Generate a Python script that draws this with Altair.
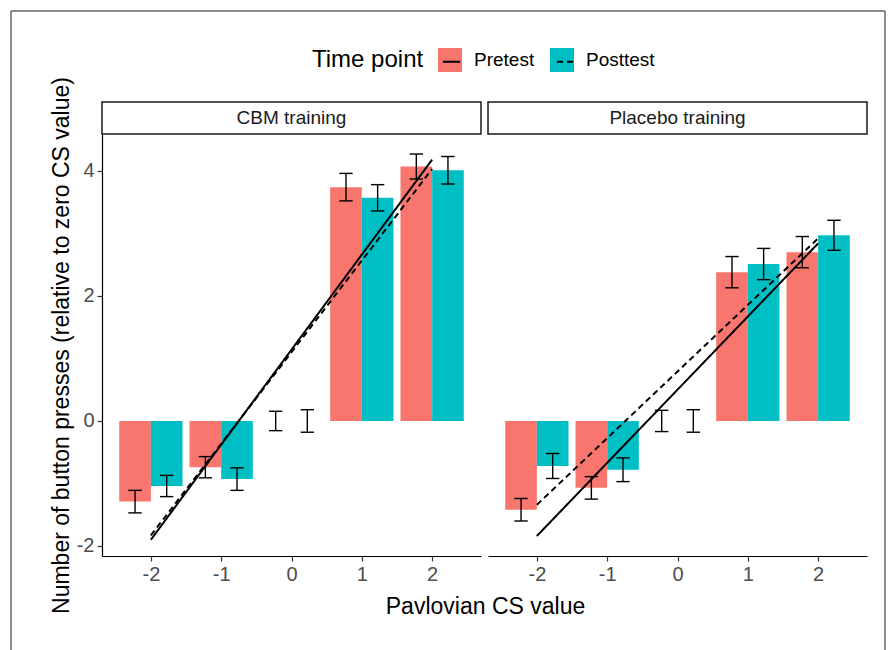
import altair as alt
import pandas as pd

# Pavlovian CS values on the x axis
cs_values = [-2, -1, 0, 1, 2]
time_points = ["Pretest", "Posttest"]
panels = ["CBM training", "Placebo training"]
bar_colors = ["#F8766D", "#00BFC4"]

# Mean change in button presses (relative to zero CS value) and standard errors
cbm_pre = [-1.29, -0.74, 0.0, 3.74, 4.07]
cbm_pre_se = [0.18, 0.17, 0.155, 0.22, 0.20]
cbm_post = [-1.04, -0.93, 0.0, 3.57, 4.01]
cbm_post_se = [0.17, 0.18, 0.18, 0.21, 0.22]
placebo_pre = [-1.42, -1.07, 0.0, 2.38, 2.70]
placebo_pre_se = [0.18, 0.18, 0.17, 0.25, 0.25]
placebo_post = [-0.72, -0.78, 0.0, 2.51, 2.97]
placebo_post_se = [0.20, 0.19, 0.18, 0.25, 0.24]

# Linear fits, evaluated at the ends of the CS range
fit_x = [-2, 2]
cbm_pre_fit = [-1.90, 4.18]
cbm_post_fit = [-1.83, 4.03]
placebo_pre_fit = [-1.84, 2.84]
placebo_post_fit = [-1.34, 2.92]

means = {
    ("CBM training", "Pretest"): (cbm_pre, cbm_pre_se),
    ("CBM training", "Posttest"): (cbm_post, cbm_post_se),
    ("Placebo training", "Pretest"): (placebo_pre, placebo_pre_se),
    ("Placebo training", "Posttest"): (placebo_post, placebo_post_se),
}
fits = {
    ("CBM training", "Pretest"): cbm_pre_fit,
    ("CBM training", "Posttest"): cbm_post_fit,
    ("Placebo training", "Pretest"): placebo_pre_fit,
    ("Placebo training", "Posttest"): placebo_post_fit,
}

BAR_W = 0.45   # width of each dodged bar
CAP_W = 0.095  # half width of error bar caps

rows = []
for (panel, tp), (vals, ses) in means.items():
    shift = -BAR_W if tp == "Pretest" else 0.0
    for cs, v, se in zip(cs_values, vals, ses):
        x_lo = cs + shift
        xc = x_lo + BAR_W / 2
        rows.append({
            "panel": panel, "time": tp, "cs": cs, "mean": v, "base": 0.0,
            "x_lo": x_lo, "x_hi": x_lo + BAR_W, "xc": xc,
            "cap_lo": xc - CAP_W, "cap_hi": xc + CAP_W,
            "lo": v - se, "hi": v + se,
        })
bars_df = pd.DataFrame(rows)

fit_rows = []
for (panel, tp), ys in fits.items():
    for x, y in zip(fit_x, ys):
        fit_rows.append({"panel": panel, "line_time": tp, "x": x, "y": y})
fit_df = pd.DataFrame(fit_rows)

W, H = 379, 422
X_DOMAIN = [-2.695, 2.695]
Y_DOMAIN = [-2.16, 4.59]
Y_TITLE = "Number of button presses (relative to zero CS value)"
X_TITLE = "Pavlovian CS value"

# legend geometry (shared by the fill legend and the line-type overlay)
LEG_X, LEG_Y = 210, -86
TITLE_PAD, LABEL_OFF, COL_PAD = 14, 12, 15
SYMBOL = 576

color_scale = alt.Scale(domain=time_points, range=bar_colors)


def panel_chart(name, first):
    xscale = alt.Scale(domain=X_DOMAIN, nice=False, zero=False)
    yscale = alt.Scale(domain=Y_DOMAIN, nice=False, zero=False)
    if first:
        xaxis = alt.Axis(values=cs_values, labelExpr="datum.value + ''",
                         title=X_TITLE, titleX=383, titleY=57,
                         titleBaseline="alphabetic", titleFontSize=23,
                         titleFontWeight="normal", titleColor="black")
        yaxis = alt.Axis(values=[-2, 0, 2, 4], labelExpr="datum.value + ''",
                         title=Y_TITLE, titleX=-34, titleY=H / 2,
                         titleAngle=-90, titleBaseline="alphabetic",
                         titleAlign="center", titleFontSize=23,
                         titleFontWeight="normal", titleColor="black")
    else:
        xaxis = alt.Axis(values=cs_values, labelExpr="datum.value + ''", title=None)
        yaxis = None

    def xq(field):
        return alt.X(field, type="quantitative", scale=xscale, axis=xaxis)

    def yq(field):
        return alt.Y(field, type="quantitative", scale=yscale, axis=yaxis)

    pdata = bars_df[bars_df["panel"] == name]
    fdata = fit_df[fit_df["panel"] == name]

    bars = alt.Chart(pdata).mark_bar(opacity=1).encode(
        x=xq("x_lo"), x2="x_hi", y=yq("mean"), y2="base",
        color=alt.Color("time:N", scale=color_scale, legend=alt.Legend(
            title="Time point", orient="none", direction="horizontal",
            legendX=LEG_X, legendY=LEG_Y, titleOrient="left",
            titleAnchor="middle", titleBaseline="middle",
            titleFontSize=24, titleFontWeight="normal", titleColor="black",
            titlePadding=TITLE_PAD, labelFontSize=19, labelColor="black",
            labelOffset=LABEL_OFF, columnPadding=COL_PAD, padding=0,
            symbolType="square", symbolSize=SYMBOL, symbolStrokeWidth=0,
            symbolOpacity=1, zindex=1)),
    )

    err = alt.Chart(pdata).mark_rule(color="black", strokeWidth=1.4).encode(
        x=xq("xc"), y=yq("lo"), y2="hi")
    cap_top = alt.Chart(pdata).mark_rule(color="black", strokeWidth=1.4).encode(
        x=xq("cap_lo"), x2="cap_hi", y=yq("hi"))
    cap_bot = alt.Chart(pdata).mark_rule(color="black", strokeWidth=1.4).encode(
        x=xq("cap_lo"), x2="cap_hi", y=yq("lo"))

    # line-type keys drawn over the coloured squares, without their own text
    lines = alt.Chart(fdata).mark_line(color="black", strokeWidth=2).encode(
        x=xq("x"), y=yq("y"),
        strokeDash=alt.StrokeDash("line_time:N", sort=time_points,
            scale=alt.Scale(range=[[1, 0], [6, 4]]),
            legend=alt.Legend(
                title=None, orient="none", direction="horizontal",
                legendX=LEG_X + 112 + TITLE_PAD, legendY=LEG_Y,
                labelExpr="''", labelFontSize=19,
                labelOffset=LABEL_OFF, columnPadding=75.2, padding=0,
                symbolType="M-0.72,0H0.72", symbolSize=SYMBOL,
                symbolStrokeColor="black", symbolStrokeWidth=2.2,
                zindex=2)),
    )

    strip_df = pd.DataFrame({"panel": [name]})
    strip_box = alt.Chart(strip_df).mark_rect(
        fill="white", stroke="#1a1a1a", strokeWidth=1.5).encode(
        x=alt.value(0), x2=alt.value(W), y=alt.value(-32), y2=alt.value(0))
    strip_text = alt.Chart(strip_df).mark_text(
        fontSize=19, color="#1a1a1a", baseline="middle", align="center").encode(
        x=alt.value(W / 2), y=alt.value(-16), text="panel:N")

    layers = [bars, err, cap_top, cap_bot, lines, strip_box, strip_text]
    if first:
        # page border: left, top and right edges (bottom runs off the page)
        one = pd.DataFrame({"k": [0]})
        edge = dict(color="#1a1a1a", strokeWidth=1)
        left_edge = alt.Chart(one).mark_rule(**edge).encode(
            x=alt.value(-91), y=alt.value(-123), y2=alt.value(517))
        top_edge = alt.Chart(one).mark_rule(**edge).encode(
            x=alt.value(-91), x2=alt.value(783), y=alt.value(-123))
        right_edge = alt.Chart(one).mark_rule(**edge).encode(
            x=alt.value(783), y=alt.value(-123), y2=alt.value(517))
        layers = [left_edge, top_edge, right_edge] + layers
    return alt.layer(*layers).properties(width=W, height=H)


chart = alt.hconcat(
    panel_chart(panels[0], True),
    panel_chart(panels[1], False),
    spacing=7, bounds="flush",
).properties(
    padding={"left": 10, "top": 10, "right": 0, "bottom": 0},
).configure(
    font="Liberation Sans",
).configure_view(
    stroke=None,
).configure_axis(
    grid=False,
    domainColor="black", domainWidth=1.2,
    tickColor="#333333", tickWidth=1.2, tickSize=5,
    labelFontSize=20, labelColor="#4D4D4D", labelPadding=3,
)

chart.save("out.html", embed_options={"renderer": "svg", "actions": False})
